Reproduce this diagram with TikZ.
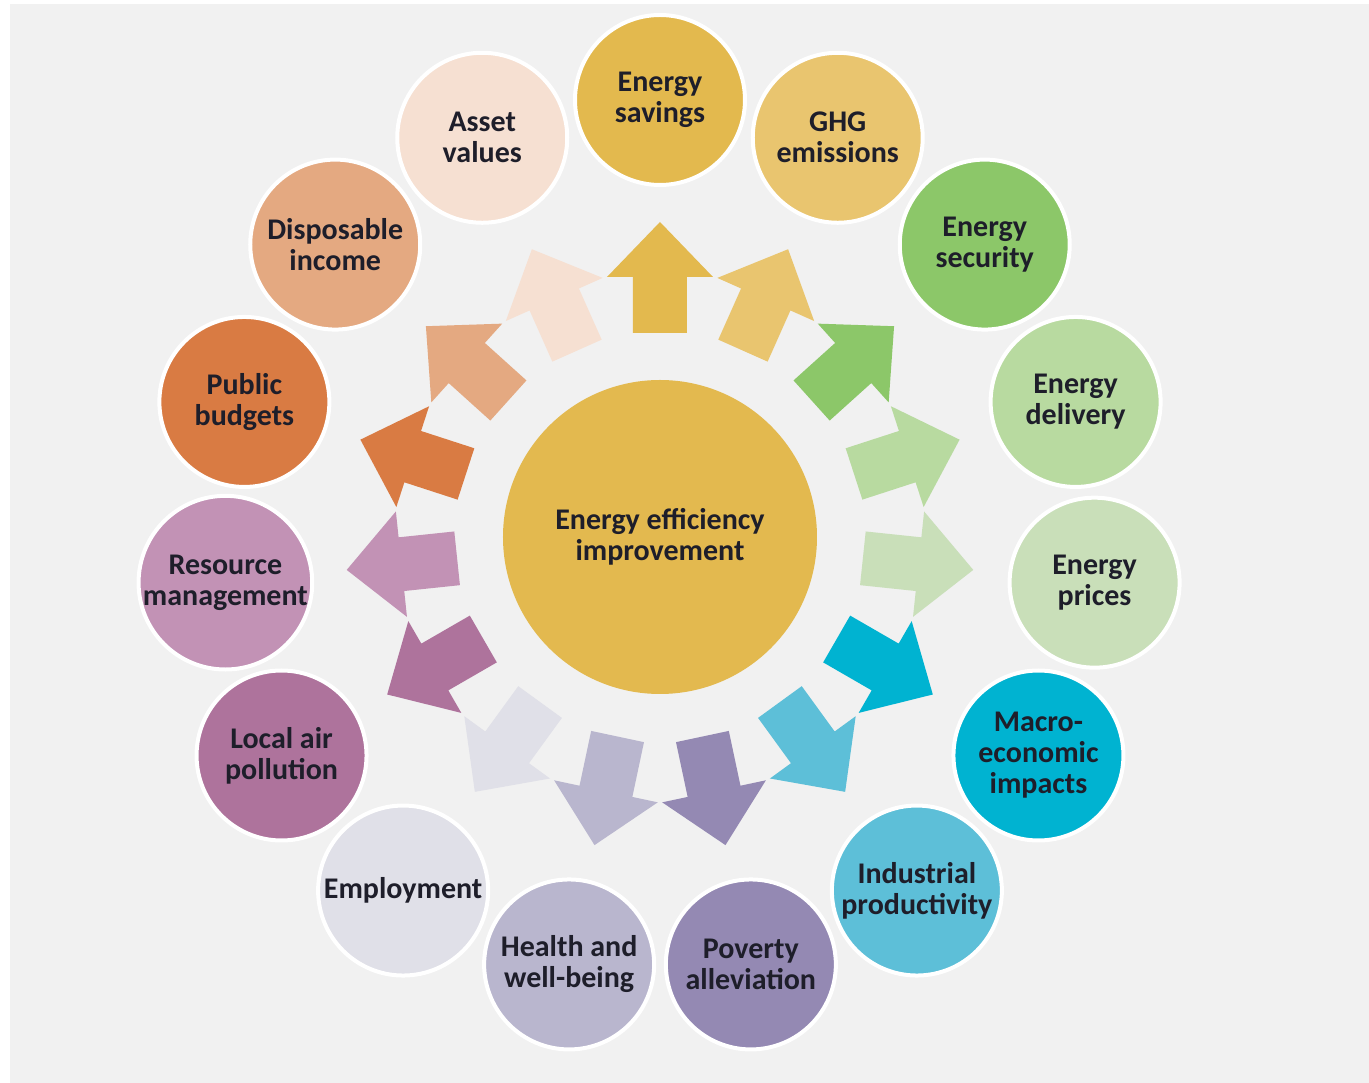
\documentclass[tikz,border=0pt]{standalone}
\usepackage{fontspec}
\setmainfont{Carlito}
\usetikzlibrary{calc}
\definecolor{fondo}{HTML}{F1F1F1}
\definecolor{texto}{HTML}{1E1E2A}
\definecolor{core}{HTML}{E3B94F}
\definecolor{savings}{HTML}{E3B94E}
\definecolor{ghg}{HTML}{E9C56F}
\definecolor{security}{HTML}{8CC769}
\definecolor{delivery}{HTML}{B8DAA0}
\definecolor{prices}{HTML}{C9DFB9}
\definecolor{macro}{HTML}{00B3D1}
\definecolor{industry}{HTML}{5DBFD8}
\definecolor{poverty}{HTML}{9489B3}
\definecolor{health}{HTML}{B9B6CE}
\definecolor{employ}{HTML}{E0E0E8}
\definecolor{airpol}{HTML}{AE739C}
\definecolor{resource}{HTML}{C292B5}
\definecolor{budgets}{HTML}{D97B43}
\definecolor{income}{HTML}{E4A981}
\definecolor{assets}{HTML}{F6E0D2}

\begin{document}
\begin{tikzpicture}[x=1pt,y=1pt,
  rotulo/.style={align=center, text=texto, font=\fontsize{30}{31}\selectfont\bfseries},
  burbuja/.style={rotulo, circle, draw=white, line width=4pt, minimum size=170pt, inner sep=0pt},
  nucleo/.style={rotulo, circle, fill=core, minimum size=314pt, inner sep=0pt}]
  \useasboundingbox (-660,-546) rectangle (709,537);
  \fill[fondo] (-650,-546) rectangle (709,533);
  % centre
  \node[nucleo] (core) at (0,0) {Energy efficiency\\improvement};
  % ring of benefits, clockwise from the top
  \foreach \col/\txt [count=\i from 0] in {
    savings/{Energy\\savings}, ghg/{GHG\\emissions}, security/{Energy\\security},
    delivery/{Energy\\delivery}, prices/{Energy\\prices}, macro/{Macro-\\economic\\impacts},
    industry/{Industrial\\productivity}, poverty/{Poverty\\alleviation},
    health/{Health and\\well-being}, employ/{Employment}, airpol/{Local air\\pollution},
    resource/{Resource\\management}, budgets/{Public\\budgets},
    income/{Disposable\\income}, assets/{Asset\\values}}{
    \pgfmathsetmacro\ang{90-24*\i}
    \begin{scope}[rotate=\ang-90]
      \fill[\col] (-27,204) -- (-27,260) -- (-53,260) -- (0,315) -- (53,260)
        -- (27,260) -- (27,204) -- cycle;
    \end{scope}
    \node[burbuja, fill=\col] (b\i) at (\ang:437) {\txt};
  }
\end{tikzpicture}
\end{document}
